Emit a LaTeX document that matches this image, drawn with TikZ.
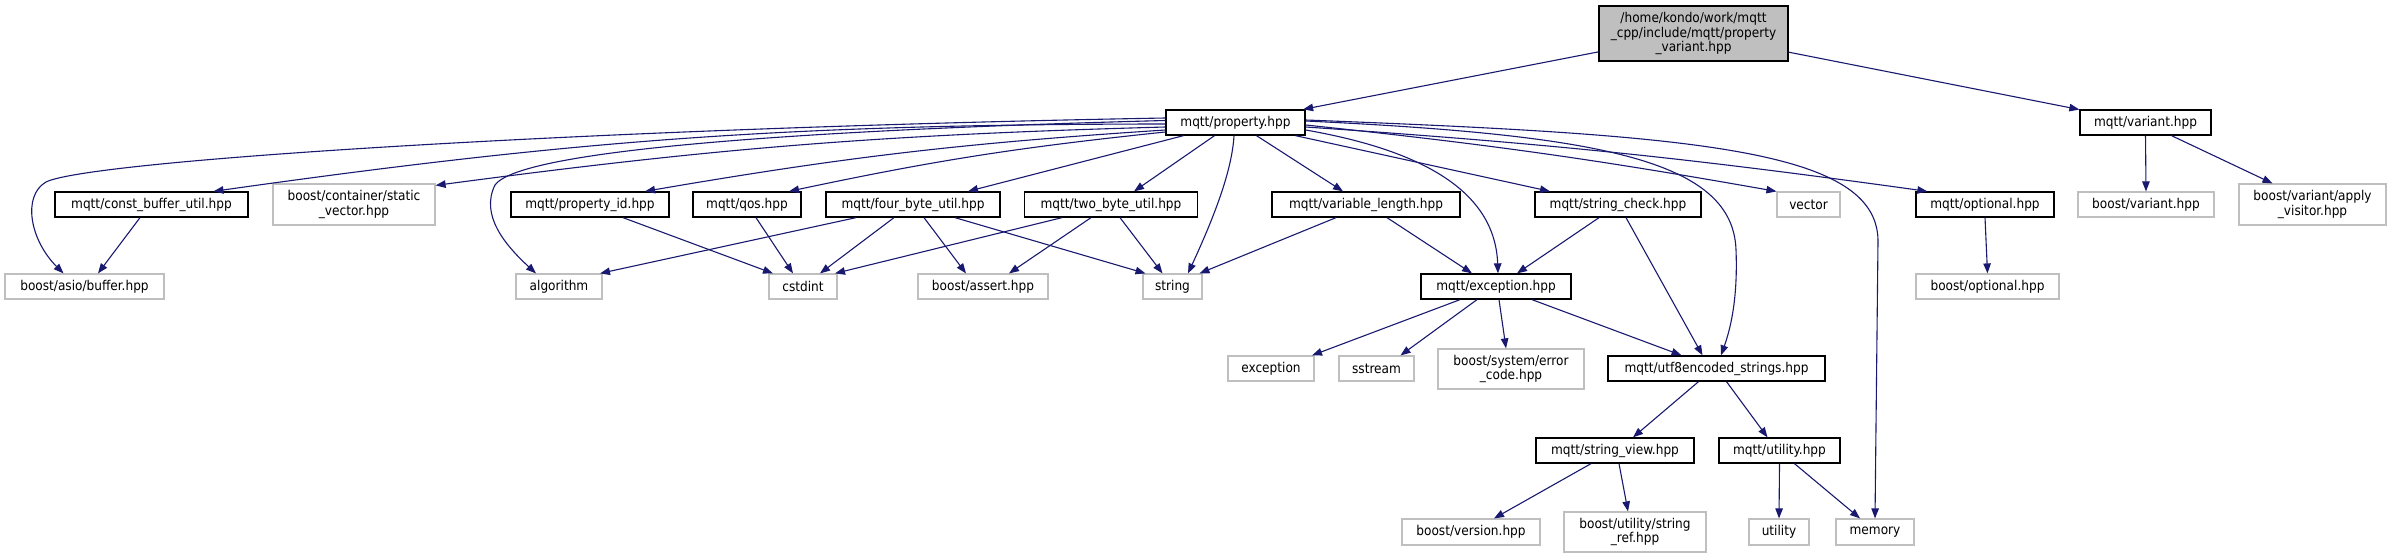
\documentclass[tikz,border=0pt]{standalone}
\usepackage{fontspec}
\setmainfont{DejaVu Sans Condensed}
\usetikzlibrary{arrows.meta}
\definecolor{edgecol}{HTML}{191970}
\definecolor{greybox}{HTML}{BFBFBF}
\begin{document}
\begin{tikzpicture}[x={(1pt,0)},y={(0,-1pt)},
  base/.style={draw, inner sep=0pt, align=center, text=black,
    font=\fontsize{13.5}{14.5}\selectfont},
  loc/.style={base, draw=black, line width=1.3pt, minimum height=25pt},
  ext/.style={base, draw=greybox, line width=1.2pt, minimum height=25pt},
  dep/.style={draw=edgecol, line width=1.1pt, -{Triangle[length=10pt,width=7.5pt]}}]
\useasboundingbox[fill=white] (0,0) rectangle (2392,559);
% level 0
\node[loc, fill=greybox, minimum width=189pt, minimum height=55pt] (main) at (1693.5,33.5)
  {/home/kondo/work/mqtt\\\_cpp/include/mqtt/property\\\_variant.hpp};
% level 1
\node[loc, minimum width=139pt] (property) at (1235.5,122.5) {mqtt/property.hpp};
\node[loc, minimum width=131pt] (variant) at (2145.5,122.5) {mqtt/variant.hpp};
% level 2
\node[loc, minimum width=193pt] (constbuf) at (151.5,204.5) {mqtt/const\_buffer\_util.hpp};
\node[ext, minimum width=162pt, minimum height=41pt] (staticv) at (354,204.5) {boost/container/static\\\_vector.hpp};
\node[loc, minimum width=158pt] (propid) at (590,204.5) {mqtt/property\_id.hpp};
\node[loc, minimum width=108pt] (qos) at (747,204.5) {mqtt/qos.hpp};
\node[loc, minimum width=174pt] (four) at (913,204.5) {mqtt/four\_byte\_util.hpp};
\node[loc, minimum width=173pt] (two) at (1111,204.5) {mqtt/two\_byte\_util.hpp};
\node[loc, minimum width=188pt] (varlen) at (1366,204.5) {mqtt/variable\_length.hpp};
\node[loc, minimum width=166pt] (strcheck) at (1618,204.5) {mqtt/string\_check.hpp};
\node[ext, minimum width=63pt] (vector) at (1808.5,204.5) {vector};
\node[loc, minimum width=138pt] (optional) at (1985,204.5) {mqtt/optional.hpp};
\node[ext, minimum width=136pt] (bvariant) at (2146,204.5) {boost/variant.hpp};
\node[ext, minimum width=147pt, minimum height=41pt] (applyv) at (2312.5,204.5) {boost/variant/apply\\\_visitor.hpp};
% level 3
\node[ext, minimum width=159pt] (buffer) at (84.5,286.5) {boost/asio/buffer.hpp};
\node[ext, minimum width=86pt] (algorithm) at (559,286.5) {algorithm};
\node[ext, minimum width=68pt] (cstdint) at (803,286.5) {cstdint};
\node[ext, minimum width=130pt] (assert) at (983,286.5) {boost/assert.hpp};
\node[ext, minimum width=59pt] (string) at (1172.5,286.5) {string};
\node[loc, minimum width=150pt] (exception) at (1496,286.5) {mqtt/exception.hpp};
\node[ext, minimum width=143pt] (boptional) at (1987.5,286.5) {boost/optional.hpp};
% level 4
\node[ext, minimum width=86pt] (exc) at (1271,368.5) {exception};
\node[ext, minimum width=75pt] (sstream) at (1376.5,368.5) {sstream};
\node[ext, minimum width=146pt, minimum height=40pt] (errcode) at (1511,369) {boost/system/error\\\_code.hpp};
\node[loc, minimum width=217pt] (utf8) at (1716.5,368.5) {mqtt/utf8encoded\_strings.hpp};
% level 5
\node[loc, minimum width=158pt] (strview) at (1615,450.5) {mqtt/string\_view.hpp};
\node[loc, minimum width=121pt] (utilhpp) at (1779.5,450.5) {mqtt/utility.hpp};
% level 6
\node[ext, minimum width=138pt, minimum height=26pt] (version) at (1471,532) {boost/version.hpp};
\node[ext, minimum width=142pt, minimum height=40pt] (strref) at (1635,532) {boost/utility/string\\\_ref.hpp};
\node[ext, minimum width=60pt, minimum height=26pt] (utility) at (1779,532) {utility};
\node[ext, minimum width=78pt, minimum height=26pt] (memory) at (1875,532) {memory};

% edges from main
\draw[dep] (main) -- (property);
\draw[dep] (main) -- (variant);
% edges from property (left side)
\draw[dep] ([yshift=4.5pt]property.west) .. controls (600,128) and (90,160) .. (46,182)
  .. controls (22,196) and (30,240) .. ([xshift=-21pt]buffer.north);
\draw[dep] ([yshift=-1.5pt]property.west) to[bend right=4] ([xshift=62pt]constbuf.north);
\draw[dep] ([yshift=-4.5pt]property.west) to[bend right=3] ([yshift=-2pt]staticv.north east);
\draw[dep] ([yshift=2pt]property.west) .. controls (800,130) and (520,150) .. (495,185)
  .. controls (480,215) and (505,245) .. ([xshift=-23pt]algorithm.north);
\draw[dep] ([yshift=-7.5pt]property.west) to[bend right=3] ([xshift=55pt]propid.north);
\draw[dep] ([yshift=-9.5pt]property.west) to[bend right=3] ([xshift=42pt]qos.north);
% edges from property (bottom)
\draw[dep] ([xshift=-52pt]property.south) -- ([xshift=55pt]four.north);
\draw[dep] ([xshift=-21pt]property.south) -- ([xshift=23pt]two.north);
\draw[dep] ([xshift=-1.5pt]property.south) .. controls (1232,170) and (1215,215) .. ([xshift=15.5pt]string.north);
\draw[dep] ([xshift=21pt]property.south) -- ([xshift=-23pt]varlen.north);
\draw[dep] ([xshift=60pt]property.south) -- ([xshift=-68pt]strcheck.north);
% edges from property (right side)
\draw[dep] ([yshift=-7.5pt]property.east) .. controls (1420,150) and (1495,190) .. ([xshift=2pt]exception.north);
\draw[dep] ([yshift=-2.5pt]property.east) to[bend left=2] (vector.north west);
\draw[dep] ([yshift=-4.5pt]property.east) to[bend left=2] ([xshift=12pt]optional.north west);
\draw[dep] ([yshift=1.5pt]property.east) .. controls (1600,135) and (1733,160) .. (1736,250)
  .. controls (1738,300) and (1730,330) .. ([xshift=4.5pt]utf8.north);
\draw[dep] ([yshift=2.5pt]property.east) .. controls (1700,135) and (1876,150) .. (1878,240)
  -- (memory.north);
% variant
\draw[dep] (variant.south) -- (bvariant.north);
\draw[dep] ([xshift=26pt]variant.south) -- ([xshift=-40pt]applyv.north);
% level 2 -> 3
\draw[dep] ([xshift=-11.5pt]constbuf.south) -- ([xshift=13.5pt]buffer.north);
\draw[dep] ([xshift=33pt]propid.south) -- ([xshift=-30pt]cstdint.north);
\draw[dep] ([xshift=9pt]qos.south) -- ([xshift=-10pt]cstdint.north);
\draw[dep] ([xshift=-57pt]four.south) -- ([xshift=41pt]algorithm.north);
\draw[dep] ([xshift=-19pt]four.south) -- ([xshift=17pt]cstdint.north);
\draw[dep] ([xshift=11pt]four.south) -- ([xshift=-17pt]assert.north);
\draw[dep] ([xshift=42pt]four.south) -- ([xshift=-27pt]string.north);
\draw[dep] ([xshift=-49pt]two.south) -- ([xshift=32pt]cstdint.north);
\draw[dep] ([xshift=-20pt]two.south) -- ([xshift=26pt]assert.north);
\draw[dep] ([xshift=9pt]two.south) -- ([xshift=-10pt]string.north);
\draw[dep] ([xshift=-30pt]varlen.south) -- ([xshift=27pt]string.north);
\draw[dep] ([xshift=21pt]varlen.south) -- ([xshift=-24pt]exception.north);
\draw[dep] ([xshift=-19pt]strcheck.south) -- ([xshift=21pt]exception.north);
\draw[dep] ([xshift=8pt]strcheck.south) -- ([xshift=-14pt]utf8.north);
\draw[dep] (optional.south) -- (boptional.north);
% exception
\draw[dep] ([xshift=-36pt]exception.south) -- ([xshift=41pt]exc.north);
\draw[dep] ([xshift=-19pt]exception.south) -- ([xshift=24pt]sstream.north);
\draw[dep] ([xshift=3pt]exception.south) -- ([xshift=-5pt]errcode.north);
\draw[dep] ([xshift=36pt]exception.south) -- ([xshift=-35pt]utf8.north);
% utf8
\draw[dep] ([xshift=-18pt]utf8.south) -- ([xshift=18pt]strview.north);
\draw[dep] ([xshift=10pt]utf8.south) -- ([xshift=-12pt]utilhpp.north);
\draw[dep] ([xshift=-24pt]strview.south) -- ([xshift=23pt]version.north);
\draw[dep] ([xshift=4pt]strview.south) -- ([xshift=-7pt]strref.north);
\draw[dep] (utilhpp.south) -- (utility.north);
\draw[dep] ([xshift=15pt]utilhpp.south) -- ([xshift=-15pt]memory.north);
\end{tikzpicture}
\end{document}
